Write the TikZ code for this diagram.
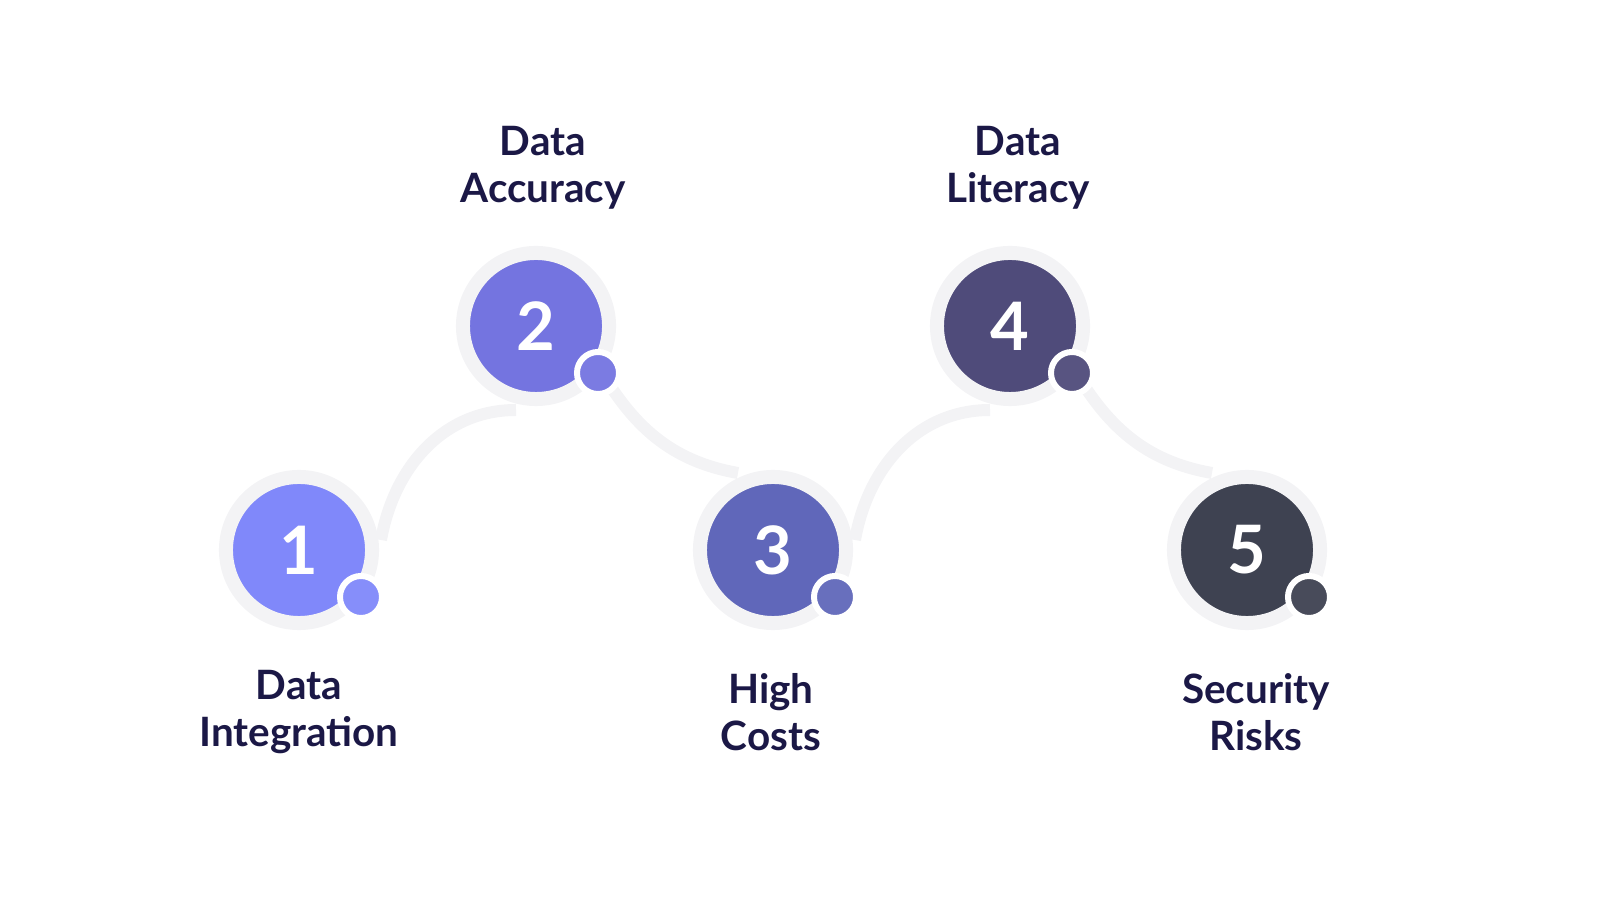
\documentclass[tikz,border=0pt]{standalone}
\usepackage{fontspec}
\setmainfont{Lato}
\definecolor{ink}{HTML}{1B1846}
\definecolor{ring}{HTML}{F3F3F5}
\definecolor{cA}{HTML}{8088FA}
\definecolor{cB}{HTML}{7474E0}
\definecolor{cC}{HTML}{6067BA}
\definecolor{cD}{HTML}{4F4B7A}
\definecolor{cE}{HTML}{3E4251}
\begin{document}
\begin{tikzpicture}[x=0.01cm,y=0.01cm,
  step disc/.style={circle, minimum size=1.46cm, inner sep=0pt, draw=ring, line width=0.14cm,
    text=white, font=\fontsize{19}{19}\selectfont\bfseries},
  dot/.style={circle, minimum size=0.42cm, inner sep=0pt, draw=white, line width=0.06cm},
  band/.style={draw=ring, line width=0.12cm},
  caption/.style={align=center, text=ink, font=\fontsize{11.5}{13.5}\selectfont\bfseries}]
 % canvas
 \useasboundingbox (0,0) rectangle (1600,900);
 % connecting bands
 \coordinate (p1) at (299,350);
 \coordinate (p2) at (536,574);
 \coordinate (p3) at (773,350);
 \coordinate (p4) at (1010,574);
 \coordinate (p5) at (1247,350);
 \draw[band] ([shift={(82,10)}]p1) to[out=80,in=180] ([shift={(-20,-84)}]p2);
 \draw[band] ([shift={(62,-40)}]p2) to[out=-60,in=170] ([shift={(-35,77)}]p3);
 \draw[band] ([shift={(82,10)}]p3) to[out=80,in=180] ([shift={(-20,-84)}]p4);
 \draw[band] ([shift={(62,-40)}]p4) to[out=-60,in=170] ([shift={(-35,77)}]p5);
 % the five steps
 \def\cols{{"cA","cB","cC","cD","cE"}}
 \foreach \i in {1,...,5} {
   \pgfmathsetmacro\col{\cols[\i - 1]}
   \node[step disc, fill=\col] (s\i) at (p\i) {\i};
   \node[dot, fill=\col!95!white] (d\i) at ([shift={(62,-47)}]p\i) {};
 }
 % captions
 \node[caption] (t1) at (299,188) {Data\\Integration};
 \node[caption] (t2) at (543,732) {Data\\Accuracy};
 \node[caption] (t3) at (771,188) {High\\Costs};
 \node[caption] (t4) at (1018,732) {Data\\Literacy};
 \node[caption] (t5) at (1256,188) {Security\\Risks};
\end{tikzpicture}
\end{document}
